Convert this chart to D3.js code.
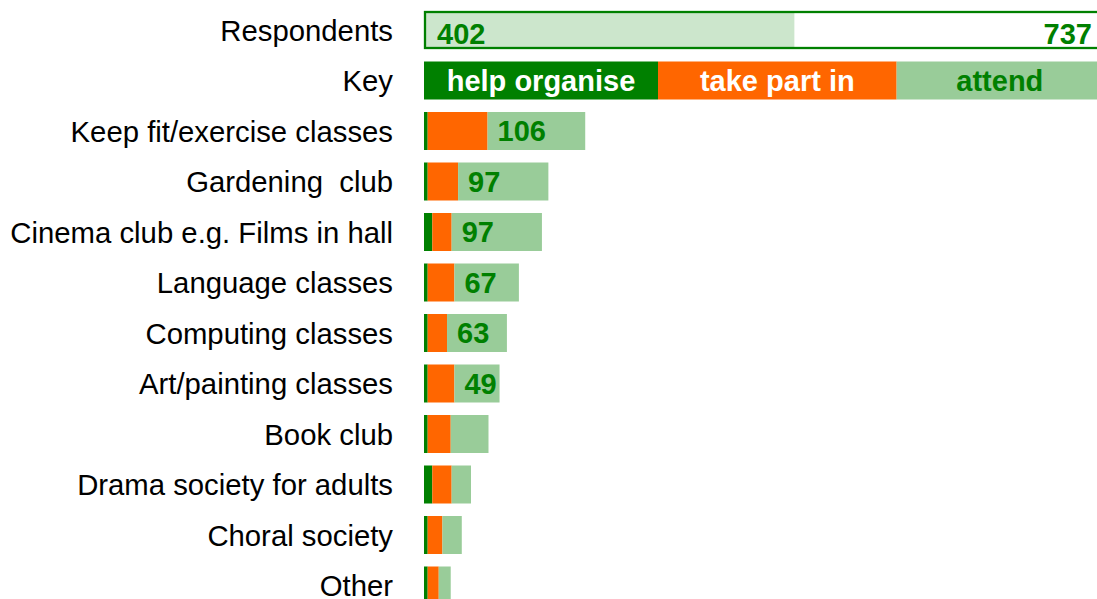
<!DOCTYPE html>
<html>
<head>
<meta charset="utf-8">
<script src="https://cdn.jsdelivr.net/npm/d3@7"></script>
<style>
  body { margin: 0; background: #fff; }
  svg { display: block; font-family: "Liberation Sans", Arial, sans-serif; }
  .row-label { white-space: pre; }
</style>
</head>
<body>
<script>
// Activities people would help organise / take part in / attend

const categories = [
  "Keep fit/exercise classes",
  "Gardening  club",
  "Cinema club e.g. Films in hall",
  "Language classes",
  "Computing classes",
  "Art/painting classes",
  "Book club",
  "Drama society for adults",
  "Choral society",
  "Other"
];
const organise = [4, 4, 9, 4, 4, 4, 4, 9, 4, 4];
const takePart = [65, 33, 21, 29, 21, 29, 25, 21, 16, 12];
const attend   = [106, 98, 98, 70, 65, 49, 41, 21, 21, 13];
const valueLabels = ["106", "97", "97", "67", "63", "49", null, null, null, null];

const respondents = 402;
const totalResp = 737;

const keyNames = ["help organise", "take part in", "attend"];
const keyBreaks = [0, 254, 513, 737];

// Layout
const width = 1097, height = 599;
const labelRight = 393;
const colors = { organise: "#008000", takePart: "#ff6600", attend: "#99cc99", resp: "#cce6cc" };

const rows = ["Respondents", "Key"].concat(categories);

const svg = d3.select("body").append("svg")
  .attr("width", width)
  .attr("height", height);

const x = d3.scaleLinear().domain([0, totalResp]).range([424, 1103]);
const y = d3.scaleBand()
  .domain(rows)
  .range([11, 604.5])
  .paddingInner(0.2475)
  .paddingOuter(0);

// Row labels
svg.selectAll(".row-label")
  .data(rows)
  .enter().append("text")
  .attr("class", "row-label")
  .attr("x", labelRight)
  .attr("y", d => y(d) + y.bandwidth() / 2)
  .attr("dy", "0.36em")
  .attr("text-anchor", "end")
  .attr("xml:space", "preserve")
  .style("font-size", "29.3px")
  .style("fill", "#000")
  .text(d => d);

// Respondents bar
const ry = y("Respondents");
svg.append("rect")
  .attr("x", x(0))
  .attr("y", ry)
  .attr("width", x(respondents) - x(0))
  .attr("height", y.bandwidth())
  .style("fill", colors.resp);
svg.append("rect")
  .attr("x", x(0) + 1)
  .attr("y", ry + 1)
  .attr("width", x(totalResp) - x(0) - 2)
  .attr("height", y.bandwidth() - 2)
  .style("fill", "none")
  .style("stroke", colors.organise)
  .style("stroke-width", 2.3);
svg.append("text")
  .attr("x", x(0) + 13)
  .attr("y", ry + y.bandwidth() / 2 + 4)
  .attr("dy", "0.36em")
  .style("font-size", "29px")
  .style("font-weight", "bold")
  .style("fill", colors.organise)
  .text(respondents);
svg.append("text")
  .attr("x", x(totalResp) - 11)
  .attr("y", ry + y.bandwidth() / 2 + 4)
  .attr("dy", "0.36em")
  .attr("text-anchor", "end")
  .style("font-size", "29px")
  .style("font-weight", "bold")
  .style("fill", colors.organise)
  .text(totalResp);

// Key bar
const keyFill = [colors.organise, colors.takePart, colors.attend];
const keyText = ["#fff", "#fff", colors.organise];
const key = svg.selectAll(".key")
  .data(keyNames)
  .enter().append("g")
  .attr("class", "key");
key.append("rect")
  .attr("x", (d, i) => x(keyBreaks[i]))
  .attr("y", y("Key"))
  .attr("width", (d, i) => x(keyBreaks[i + 1]) - x(keyBreaks[i]))
  .attr("height", y.bandwidth())
  .style("fill", (d, i) => keyFill[i]);
key.append("text")
  .attr("x", (d, i) => (x(keyBreaks[i]) + x(keyBreaks[i + 1])) / 2)
  .attr("y", y("Key") + y.bandwidth() / 2)
  .attr("dy", "0.36em")
  .attr("text-anchor", "middle")
  .style("font-size", "29px")
  .style("font-weight", "bold")
  .style("fill", (d, i) => keyText[i])
  .text(d => d);

// Stacked bars
const table = categories.map((c, i) => ({
  name: c, organise: organise[i], takePart: takePart[i], attend: attend[i], label: valueLabels[i]
}));
const stack = d3.stack().keys(["organise", "takePart", "attend"]);
const series = stack(table);

svg.selectAll(".series")
  .data(series)
  .enter().append("g")
  .attr("class", "series")
  .style("fill", d => colors[d.key])
  .selectAll("rect")
  .data(d => d)
  .enter().append("rect")
  .attr("x", d => x(d[0]))
  .attr("y", d => y(d.data.name))
  .attr("width", d => x(d[1]) - x(d[0]))
  .attr("height", y.bandwidth());

// Value labels at start of the attend segment
const attendSeries = series[2];
svg.selectAll(".value")
  .data(attendSeries.filter(d => d.data.label))
  .enter().append("text")
  .attr("class", "value")
  .attr("x", d => x(d[0]) + 10)
  .attr("y", d => y(d.data.name) + y.bandwidth() / 2)
  .attr("dy", "0.36em")
  .style("font-size", "29px")
  .style("font-weight", "bold")
  .style("fill", colors.organise)
  .text(d => d.data.label);
</script>
</body>
</html>
